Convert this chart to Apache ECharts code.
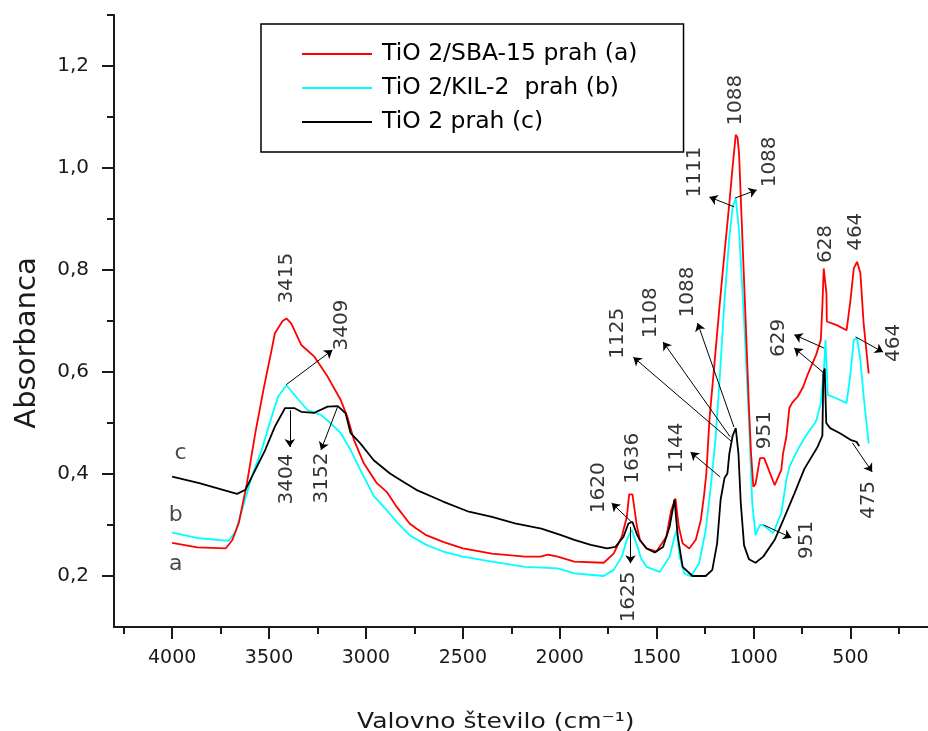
<!DOCTYPE html>
<html>
<head>
<meta charset="utf-8">
<title>FTIR spektri</title>
<script src="https://cdn.jsdelivr.net/npm/echarts@6/dist/echarts.min.js"></script>
<style>
  html, body { margin: 0; padding: 0; background: #fff; }
  #chart { width: 928px; height: 731px; }
</style>
</head>
<body>
<div id="chart"></div>
<script>
// Spectra: [wavenumber (cm-1), absorbance]
const spectrumA = [
  [4000,0.265],[3870,0.256],[3724,0.254],[3690,0.27],[3656,0.304],[3614,0.382],[3571,0.48],
  [3529,0.565],[3487,0.643],[3470,0.676],[3430,0.700],[3410,0.705],[3385,0.695],[3334,0.653],
  [3266,0.63],[3198,0.591],[3130,0.545],[3096,0.512],[3062,0.467],[3011,0.421],[2944,0.382],
  [2893,0.365],[2842,0.336],[2775,0.303],[2740,0.293],[2689,0.28],[2602,0.267],[2500,0.254],
  [2350,0.244],[2180,0.238],[2100,0.238],[2060,0.242],[2011,0.238],[1925,0.228],[1773,0.226],
  [1722,0.244],[1680,0.277],[1654,0.316],[1642,0.36],[1625,0.36],[1603,0.30],[1586,0.27],
  [1552,0.254],[1501,0.248],[1450,0.277],[1425,0.329],[1403,0.352],[1386,0.297],[1366,0.264],
  [1332,0.254],[1298,0.271],[1272,0.31],[1255,0.36],[1244,0.40],[1227,0.51],[1201,0.62],
  [1176,0.728],[1150,0.833],[1125,0.931],[1108,1.003],[1092,1.065],[1083,1.06],[1075,1.029],
  [1058,0.865],[1041,0.702],[1024,0.532],[1013,0.44],[1001,0.375],[990,0.38],[967,0.431],
  [945,0.431],[891,0.378],[857,0.408],[848,0.44],[831,0.473],[815,0.53],[800,0.54],[772,0.552],
  [745,0.57],[721,0.595],[678,0.633],[653,0.663],[645,0.73],[638,0.803],[630,0.8],[624,0.754],
  [622,0.699],[571,0.692],[520,0.682],[500,0.741],[483,0.803],[466,0.816],[449,0.794],
  [432,0.695],[406,0.597]
];
const spectrumB = [
  [4000,0.285],[3860,0.274],[3707,0.269],[3673,0.287],[3640,0.329],[3589,0.395],[3538,0.447],
  [3487,0.512],[3453,0.552],[3410,0.574],[3351,0.547],[3300,0.525],[3232,0.516],[3181,0.499],
  [3130,0.48],[3079,0.447],[3029,0.408],[2960,0.357],[2893,0.329],[2842,0.306],[2775,0.28],
  [2689,0.261],[2602,0.248],[2500,0.238],[2350,0.228],[2180,0.218],[2011,0.215],[1925,0.205],
  [1773,0.2],[1722,0.212],[1680,0.238],[1654,0.271],[1629,0.291],[1603,0.262],[1580,0.234],
  [1552,0.218],[1484,0.208],[1433,0.238],[1408,0.277],[1396,0.29],[1382,0.238],[1357,0.205],
  [1323,0.199],[1281,0.225],[1247,0.29],[1221,0.375],[1196,0.47],[1176,0.58],[1150,0.74],
  [1125,0.865],[1108,0.924],[1092,0.94],[1075,0.878],[1049,0.702],[1024,0.506],[1007,0.343],
  [990,0.28],[967,0.3],[950,0.3],[899,0.284],[857,0.323],[831,0.388],[815,0.414],[790,0.434],
  [763,0.454],[721,0.48],[678,0.503],[653,0.539],[636,0.61],[629,0.663],[617,0.555],[571,0.548],
  [520,0.539],[500,0.597],[483,0.663],[466,0.666],[449,0.624],[432,0.552],[406,0.46]
];
const spectrumC = [
  [4000,0.395],[3860,0.382],[3665,0.361],[3622,0.369],[3571,0.408],[3520,0.447],[3470,0.493],
  [3418,0.529],[3368,0.529],[3334,0.522],[3266,0.52],[3198,0.532],[3145,0.533],[3105,0.519],
  [3079,0.48],[3029,0.46],[2960,0.427],[2876,0.401],[2808,0.385],[2740,0.369],[2602,0.346],
  [2469,0.326],[2350,0.316],[2231,0.303],[2095,0.293],[1993,0.28],[1925,0.271],[1840,0.261],
  [1756,0.254],[1713,0.257],[1671,0.277],[1646,0.303],[1625,0.306],[1600,0.28],[1586,0.27],
  [1552,0.254],[1510,0.246],[1467,0.257],[1433,0.297],[1408,0.35],[1391,0.277],[1366,0.218],
  [1315,0.2],[1247,0.2],[1213,0.212],[1188,0.264],[1170,0.35],[1150,0.392],[1135,0.401],
  [1125,0.44],[1108,0.475],[1092,0.49],[1078,0.44],[1066,0.343],[1049,0.26],[1024,0.233],
  [990,0.226],[950,0.238],[891,0.271],[840,0.316],[789,0.362],[738,0.41],[670,0.453],
  [645,0.475],[640,0.597],[633,0.607],[625,0.5],[605,0.49],[554,0.48],[500,0.467],[469,0.463],
  [455,0.455]
];
const seriesNames = ['TiO 2/SBA-15 prah (a)', 'TiO 2/KIL-2  prah (b)', 'TiO 2 prah (c)'];

// Axis ticks
const wavenumberTicks = [4000, 3500, 3000, 2500, 2000, 1500, 1000, 500];
const wavenumberMinorTicks = [4250, 3750, 3250, 2750, 2250, 1750, 1250, 750, 250];
const absorbanceTicks = [0.2, 0.4, 0.6, 0.8, 1.0, 1.2];
const absorbanceMinorTicks = [0.3, 0.5, 0.7, 0.9, 1.1, 1.3];

// Peak labels: [wavenumber, absorbance, text] (label centre)
const peakLabels = [
  [3407, 0.784, '3415'], [3127, 0.692, '3409'], [3407, 0.390, '3404'], [3229, 0.392, '3152'],
  [1798, 0.373, '1620'], [1625, 0.431, '1636'], [1645, 0.159, '1625'], [1396, 0.451, '1144'],
  [1701, 0.676, '1125'], [1528, 0.716, '1108'], [1340, 0.757, '1088'], [1304, 0.992, '1111'],
  [917, 1.012, '1088'], [1091, 1.133, '1088'], [943, 0.486, '951'], [724, 0.271, '951'],
  [872, 0.667, '629'], [627, 0.851, '628'], [470, 0.875, '464'], [276, 0.657, '464'],
  [403, 0.349, '475']
];
// Curve tags
const curveTags = [[3982, 0.222, 'a'], [3982, 0.320, 'b'], [3957, 0.441, 'c']];
// Pointer arrows: [fromX, fromY, toX, toY], head at the "to" end
const pointers = [
  [3412, 0.575, 3173, 0.643], [3393, 0.525, 3393, 0.453], [3147, 0.531, 3232, 0.447],
  [1630, 0.306, 1732, 0.343], [1635, 0.296, 1635, 0.225], [1172, 0.394, 1325, 0.443],
  [1111, 0.463, 1620, 0.629], [1121, 0.473, 1467, 0.659], [1101, 0.492, 1289, 0.696],
  [1101, 0.924, 1228, 0.943], [1096, 0.941, 984, 0.957], [948, 0.300, 805, 0.275],
  [637, 0.647, 790, 0.673], [637, 0.598, 790, 0.647], [474, 0.669, 332, 0.639],
  [490, 0.461, 388, 0.404]
];

const FONT = 'DejaVu Sans';
const INK = '#1a1a1a';
const chart = echarts.init(document.getElementById('chart'), null, { renderer: 'canvas' });

const commaFmt = v => Number(v).toFixed(1).replace('.', ',');
const plainFmt = v => String(Math.round(v));

chart.setOption({
  backgroundColor: '#ffffff',
  animation: false,
  grid: { left: 114, right: -11, top: 15, bottom: 104, containLabel: false },
  legend: {
    data: seriesNames,
    orient: 'vertical',
    left: 261,
    top: 24,
    padding: [18, 46, 18, 41],
    itemGap: 10,
    itemWidth: 70,
    itemHeight: 2,
    icon: 'rect',
    borderColor: '#000',
    borderWidth: 1.5,
    backgroundColor: '#fff',
    selectedMode: false,
    textStyle: { fontFamily: FONT, fontSize: 23.5, color: '#000', lineHeight: 24, padding: [0, 0, 0, 5] }
  },
  xAxis: [
    {
      type: 'value', min: 100, max: 4300, inverse: true,
      splitLine: { show: false },
      axisLine: { show: true, lineStyle: { color: INK, width: 2 } },
      axisTick: { show: true, customValues: wavenumberTicks, length: 12, lineStyle: { color: INK, width: 2 } },
      axisLabel: {
        show: true, customValues: wavenumberTicks, margin: 22, formatter: plainFmt,
        fontFamily: FONT, fontSize: 19, color: INK
      }
    },
    {
      type: 'value', min: 100, max: 4300, inverse: true, position: 'bottom', offset: 0,
      splitLine: { show: false },
      axisLine: { show: false },
      axisTick: { show: true, customValues: wavenumberMinorTicks, length: 7, lineStyle: { color: INK, width: 2 } },
      axisLabel: { show: false }
    }
  ],
  yAxis: [
    {
      type: 'value', min: 0.1, max: 1.3,
      splitLine: { show: false },
      axisLine: { show: true, lineStyle: { color: INK, width: 2 } },
      axisTick: { show: true, customValues: absorbanceTicks, length: 12, lineStyle: { color: INK, width: 2 } },
      axisLabel: {
        show: true, customValues: absorbanceTicks, margin: 25,
        fontFamily: FONT, fontSize: 20, color: INK, formatter: commaFmt
      }
    },
    {
      type: 'value', min: 0.1, max: 1.3, position: 'left', offset: 0,
      splitLine: { show: false },
      axisLine: { show: false },
      axisTick: { show: true, customValues: absorbanceMinorTicks, length: 7, lineStyle: { color: INK, width: 2 } },
      axisLabel: { show: false }
    }
  ],
  series: [
    {
      name: seriesNames[0], type: 'line', data: spectrumA, symbol: 'none',
      lineStyle: { color: '#ff0000', width: 1.8 }, itemStyle: { color: '#ff0000' }, z: 3
    },
    {
      name: seriesNames[1], type: 'line', data: spectrumB, symbol: 'none',
      lineStyle: { color: '#00ffff', width: 1.8 }, itemStyle: { color: '#00ffff' }, z: 2
    },
    {
      name: seriesNames[2], type: 'line', data: spectrumC, symbol: 'none',
      lineStyle: { color: '#000000', width: 1.8 }, itemStyle: { color: '#000000' }, z: 4
    },
    {
      name: 'peaks', type: 'scatter', symbolSize: 0, silent: true, z: 6,
      data: peakLabels.map(p => ({ value: [p[0], p[1]], name: p[2] })),
      label: {
        show: true, position: 'inside', rotate: 90, formatter: '{b}',
        fontFamily: FONT, fontSize: 20, color: '#000'
      },
      markLine: {
        silent: true, animation: false,
        symbol: ['none', 'arrow'], symbolSize: 8,
        label: { show: false },
        lineStyle: { color: '#000', width: 1, type: 'solid' },
        emphasis: { disabled: true },
        data: pointers.map(a => [{ coord: [a[0], a[1]] }, { coord: [a[2], a[3]] }])
      }
    },
    {
      name: 'tags', type: 'scatter', symbolSize: 0, silent: true, z: 6,
      data: curveTags.map(p => ({ value: [p[0], p[1]], name: p[2] })),
      label: {
        show: true, position: 'inside', formatter: '{b}',
        fontFamily: FONT, fontSize: 22, color: INK
      }
    }
  ],
  graphic: [
    {
      type: 'text', x: 27, y: 343, rotation: Math.PI / 2,
      style: {
        text: 'Absorbanca', font: '29px "DejaVu Sans"', fill: INK,
        textAlign: 'center', textVerticalAlign: 'middle'
      }
    },
    {
      type: 'text', x: 357, y: 723, scaleX: 1.19,
      style: {
        text: 'Valovno število (cm⁻¹)', font: '21px "DejaVu Sans"', fill: INK,
        textAlign: 'left', textVerticalAlign: 'middle'
      }
    }
  ]
});
</script>
</body>
</html>
